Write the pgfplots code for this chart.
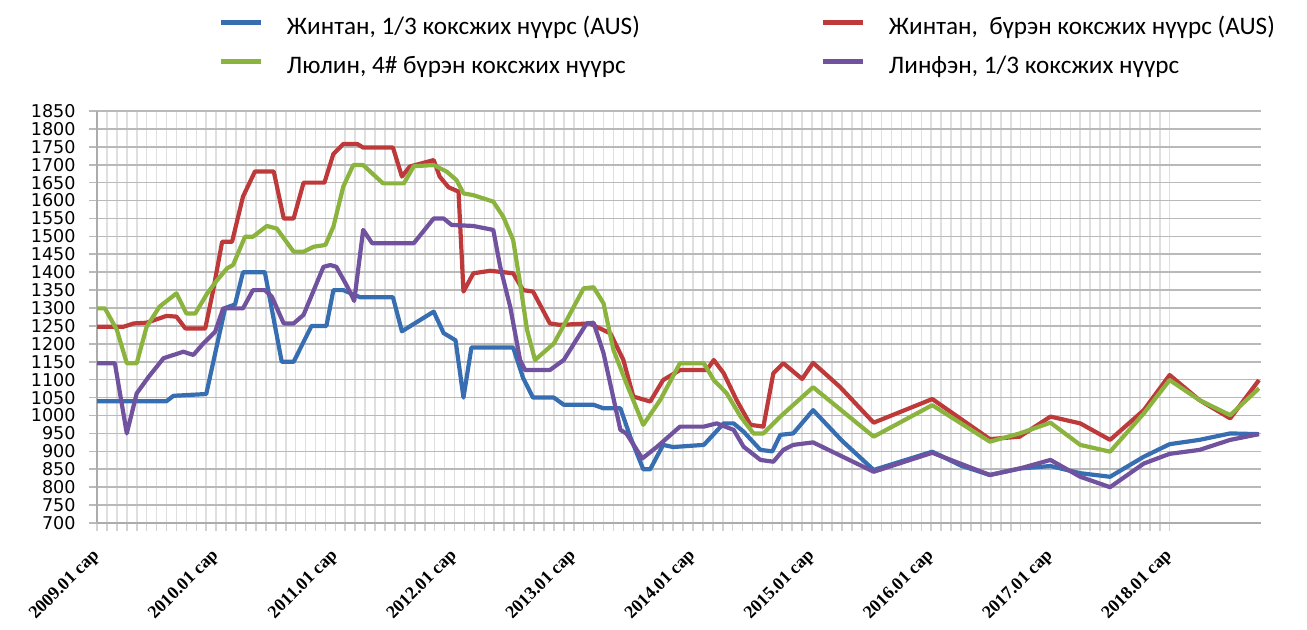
\documentclass[border=0pt]{standalone}
\usepackage{fontspec}
\setmainfont{Carlito}
\newfontfamily\dejavu{DejaVu Sans}
\newfontfamily\tnr{Liberation Serif}
\usepackage{pgfplots}
\pgfplotsset{compat=1.18}
\definecolor{cblue}{RGB}{55,110,178}
\definecolor{cred}{RGB}{190,58,58}
\definecolor{cgreen}{RGB}{138,180,62}
\definecolor{cpurple}{RGB}{112,82,158}
\begin{document}
\begin{tikzpicture}
\useasboundingbox (0,0) rectangle (653.5pt,315pt);
\begin{axis}[
  at={(48.5pt,53.5pt)}, anchor=south west,
  scale only axis, width=582pt, height=206pt,
  xmin=0, xmax=117.2, ymin=700, ymax=1850,
  ytick={700,750,...,1850},
  xtick={0,12,...,108},
  xticklabels={2009.01 сар,2010.01 сар,2011.01 сар,2012.01 сар,2013.01 сар,2014.01 сар,2015.01 сар,2016.01 сар,2017.01 сар,2018.01 сар},
  minor x tick num=11,
  xmajorgrids=true, xminorgrids=true, ymajorgrids=true,
  x grid style={gray!25, line width=0.8pt},
  y grid style={gray!55, line width=0.8pt},
  axis x line*=bottom, axis y line*=left,
  axis line style={gray!65, line width=0.8pt},
  tick align=outside,
  major tick length=4pt, minor tick length=4pt,
  x tick style={gray!35, line width=0.8pt},
  y tick style={gray!55, line width=0.8pt},
  /pgf/number format/assume math mode=true,
  y tick label style={/pgf/number format/1000 sep={}, font=\dejavu\fontsize{8.8}{10}\selectfont, inner sep=0pt, xshift=-6.5pt},
  x tick label style={font=\tnr\bfseries\fontsize{9}{11}\selectfont, inner sep=0pt, yshift=-11pt, xshift=0pt, rotate=45, anchor=east},
  legend columns=2,
  legend cell align=left,
  legend style={draw=none, fill=none, at={(0.1048,1.168)}, anchor=west, inner sep=0pt, outer sep=0pt,
    font=\fontsize{12.6}{14}\selectfont, nodes={inner sep=0pt}, /tikz/column sep=0pt, /tikz/row sep=4.5pt},
  legend image code/.code={\draw[#1, line width=2.5pt] (0pt,0pt) -- (20pt,0pt);},
  every axis plot/.append style={line width=2.1pt, line join=round},
]
\addplot[cblue] coordinates {(0,1040) (7,1040) (7.7,1055) (11,1060) (12.9,1300) (13.9,1310) (14.7,1400) (16.9,1400) (18.6,1150) (19.8,1150) (21.6,1250) (23.1,1250) (23.8,1350) (24.8,1350) (26.5,1330) (29.8,1330) (30.7,1235) (33.9,1290) (34.9,1230) (36.1,1210) (36.9,1050) (37.7,1190) (41.9,1190) (42.9,1105) (43.9,1050) (46,1050) (47,1030) (50,1030) (51,1020) (52.7,1020) (53.7,940) (55,850) (55.7,850) (57,918) (58,912) (61.1,918) (63.1,978) (64.1,978) (65.1,955) (66.8,904) (68,900) (68.8,946) (70.1,950) (72.1,1015) (75,930) (78.2,848) (84.1,899) (87,860) (89.9,834) (92.9,852) (96,859) (99,839) (102,829) (105.4,885) (108,920) (111,932) (114.1,950) (117,948)};
\addlegendentry{\hspace*{11.5pt}\makebox[267pt][l]{\rule[-5.5pt]{0pt}{19pt}Жинтан, 1/3 коксжих нүүрс (AUS)}}
\addplot[cred] coordinates {(0,1248) (2.7,1248) (3.7,1257) (5,1259) (7,1278) (8,1276) (8.9,1243) (10.9,1243) (11.7,1350) (12.6,1485) (13.6,1485) (14.7,1611) (15.9,1681) (17.8,1681) (18.8,1550) (19.8,1550) (20.8,1650) (22.9,1650) (23.8,1730) (24.8,1758) (26.2,1758) (26.8,1748) (29.8,1748) (30.7,1667) (31.5,1695) (33.9,1713) (34.5,1667) (35.4,1637) (36.4,1625) (36.9,1346) (37.9,1397) (39.6,1404) (41.9,1397) (42.9,1350) (43.9,1346) (45.6,1257) (46.6,1253) (49.6,1257) (51.7,1229) (53,1155) (54,1053) (55.7,1039) (57,1099) (58.7,1127) (61.4,1127) (62.1,1155) (63.1,1118) (64.4,1043) (65.8,974) (67.1,969) (68.1,1118) (69.1,1146) (71,1102) (72.1,1147) (74.8,1080) (78.2,980) (84.1,1046) (89.9,934) (92.9,941) (96,997) (99,978) (102,932) (105.4,1015) (108,1113) (111,1043) (114.1,992) (117,1099)};
\addlegendentry{\hspace*{11.5pt}\rule[-5.5pt]{0pt}{19pt}Жинтан,\ \ бүрэн коксжих нүүрс (AUS)}
\addplot[cgreen] coordinates {(0,1299) (0.8,1299) (2,1239) (3,1146) (4,1146) (5,1248) (6.3,1304) (8,1341) (9,1285) (9.9,1285) (11.1,1341) (12.1,1378) (13.1,1411) (13.7,1420) (14.9,1499) (15.7,1499) (17.1,1529) (18.1,1522) (19.8,1457) (20.8,1457) (21.8,1471) (23,1476) (23.8,1527) (24.8,1639) (25.8,1699) (26.8,1699) (28.8,1648) (30.9,1648) (31.9,1696) (33.9,1699) (35.2,1681) (36.2,1657) (36.9,1620) (37.9,1615) (39.9,1597) (40.9,1555) (41.9,1490) (42.6,1369) (43.3,1239) (44.1,1155) (46,1201) (47.3,1267) (49,1355) (50,1358) (51,1313) (52,1183) (53.3,1090) (55,974) (56.7,1043) (58.7,1146) (61.1,1146) (62.1,1099) (63.4,1062) (64.8,997) (66.1,950) (67.1,950) (68.8,997) (72.1,1079) (78.2,941) (84.1,1029) (89.9,927) (92.9,950) (96,980) (99,918) (102,899) (105.4,1006) (108,1099) (111,1043) (114.1,1001) (117,1076)};
\addlegendentry{\hspace*{11.5pt}\makebox[267pt][l]{\rule[-5.5pt]{0pt}{19pt}Люлин, 4\# бүрэн коксжих нүүрс}}
\addplot[cpurple] coordinates {(0,1146) (1.8,1146) (3,950) (4,1062) (5.2,1108) (6.7,1160) (8.7,1178) (9.7,1169) (10.7,1201) (11.9,1234) (12.7,1299) (14.7,1299) (15.7,1350) (16.9,1350) (17.6,1332) (18.8,1257) (19.8,1257) (20.8,1281) (22.8,1415) (23.5,1420) (24.1,1415) (25.2,1360) (25.9,1320) (26.8,1518) (27.7,1481) (31.9,1481) (33.9,1550) (34.9,1550) (35.7,1532) (37.9,1529) (39.9,1518) (40.6,1415) (41.6,1304) (42.6,1155) (43.1,1127) (45.6,1127) (47,1155) (49.3,1257) (50,1259) (51,1174) (52.7,960) (53.3,950) (54.9,880) (56.4,913) (58.7,969) (61.1,969) (62.4,978) (64.1,960) (65.1,913) (66.8,876) (68.1,871) (69.1,904) (70.1,918) (72.1,925) (78.2,843) (84.1,896) (89.9,834) (92.9,852) (96,876) (99,829) (102,800) (105.4,866) (108,893) (111,904) (114.1,932) (117,948)};
\addlegendentry{\hspace*{11.5pt}\rule[-5.5pt]{0pt}{19pt}Линфэн, 1/3 коксжих нүүрс}
\end{axis}
\end{tikzpicture}
\end{document}
